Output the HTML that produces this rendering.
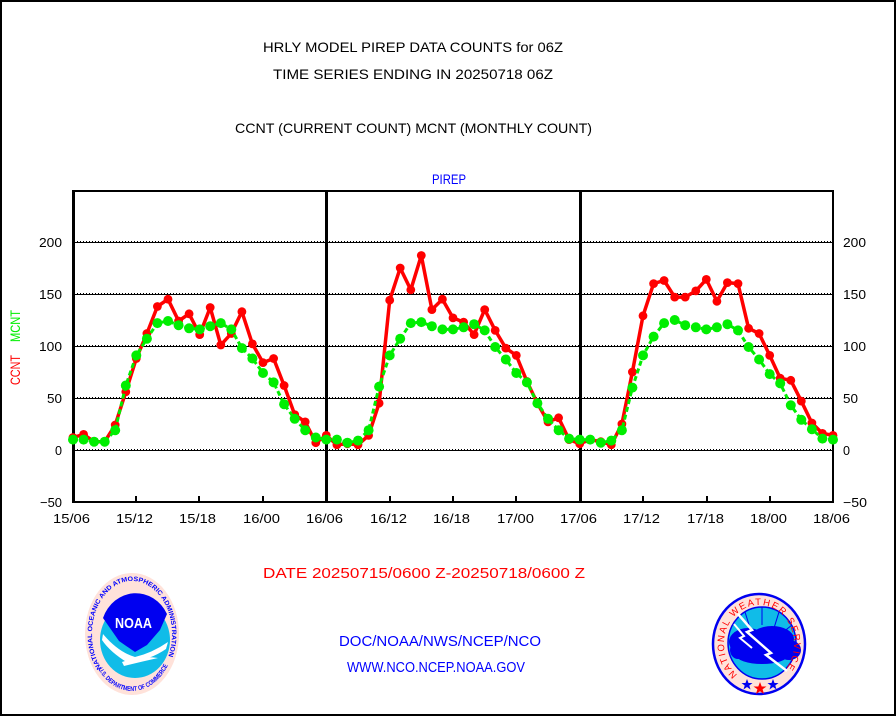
<!DOCTYPE html>
<html><head><meta charset="utf-8">
<style>
html,body{margin:0;padding:0;background:#fff;}
svg{display:block;}
text{font-family:"Liberation Sans",sans-serif;}
</style></head>
<body>
<svg width="896" height="716" viewBox="0 0 896 716" xmlns="http://www.w3.org/2000/svg">
<defs>
<marker id="mr" markerUnits="userSpaceOnUse" markerWidth="12" markerHeight="12" refX="6" refY="6"><circle cx="6" cy="6" r="4.4" fill="#ff0000"/></marker>
<marker id="mg" markerUnits="userSpaceOnUse" markerWidth="12" markerHeight="12" refX="6" refY="6"><circle cx="6" cy="6" r="5" fill="#00ee00"/></marker>
<path id="noaaTop" d="M 101.4,668.1 A 40 53 0 1 1 162.6,668.1" fill="none"/>
<path id="noaaBot" d="M 96.8,666.7 A 43 57 0 0 0 167.2,666.7" fill="none"/>
<path id="nwsTop" d="M 737.4,674.7 A 35 39 0 1 1 780.6,674.7" fill="none"/>
</defs>
<rect x="0" y="0" width="896" height="716" fill="#fff"/>
<rect x="1" y="1" width="894" height="714" fill="none" stroke="#000" stroke-width="2"/>

<!-- titles -->
<text x="263" y="52" font-size="14" textLength="300" lengthAdjust="spacingAndGlyphs">HRLY MODEL PIREP DATA COUNTS for 06Z</text>
<text x="273" y="79" font-size="14" textLength="280" lengthAdjust="spacingAndGlyphs">TIME SERIES ENDING IN 20250718 06Z</text>
<text x="235" y="133" font-size="14" textLength="357" lengthAdjust="spacingAndGlyphs">CCNT (CURRENT COUNT) MCNT (MONTHLY COUNT)</text>
<text x="432" y="184" font-size="14" fill="#0000ff" textLength="34" lengthAdjust="spacingAndGlyphs">PIREP</text>

<!-- y axis title -->
<text transform="translate(20,385) rotate(-90)" font-size="14" fill="#ff0000" textLength="30" lengthAdjust="spacingAndGlyphs">CCNT</text>
<text transform="translate(20,342) rotate(-90)" font-size="14" fill="#00ee00" textLength="32" lengthAdjust="spacingAndGlyphs">MCNT</text>

<!-- gridlines -->
<g fill="#000">
<rect x="74" y="242" width="759" height="1"/>
<rect x="74" y="294" width="759" height="1"/>
<rect x="74" y="346" width="759" height="1"/>
<rect x="74" y="398" width="759" height="1"/>
<rect x="74" y="450" width="759" height="1"/>
</g>
<g stroke="#000" stroke-width="1" stroke-dasharray="1 2">
<line x1="74" y1="241.5" x2="833" y2="241.5"/>
<line x1="74" y1="293.5" x2="833" y2="293.5"/>
<line x1="74" y1="345.5" x2="833" y2="345.5"/>
<line x1="74" y1="397.5" x2="833" y2="397.5"/>
<line x1="74" y1="449.5" x2="833" y2="449.5"/>
</g>

<!-- axes frame -->
<g fill="#000">
<rect x="72" y="190" width="762" height="2"/>
<rect x="72" y="501" width="762" height="2"/>
<rect x="72" y="190" width="3" height="313"/>
<rect x="832" y="190" width="2" height="313"/>
<rect x="325" y="190" width="3" height="313"/>
<rect x="579" y="190" width="3" height="313"/>
<rect x="135" y="496" width="2" height="5"/>
<rect x="198" y="496" width="2" height="5"/>
<rect x="262" y="496" width="2" height="5"/>
<rect x="389" y="496" width="2" height="5"/>
<rect x="452" y="496" width="2" height="5"/>
<rect x="515" y="496" width="2" height="5"/>
<rect x="642" y="496" width="2" height="5"/>
<rect x="706" y="496" width="2" height="5"/>
<rect x="769" y="496" width="2" height="5"/>
</g>

<!-- y tick labels left -->
<g font-size="13" text-anchor="end">
<text x="62" y="247" textLength="23" lengthAdjust="spacingAndGlyphs">200</text>
<text x="62" y="299" textLength="23" lengthAdjust="spacingAndGlyphs">150</text>
<text x="62" y="351" textLength="23" lengthAdjust="spacingAndGlyphs">100</text>
<text x="62" y="403" textLength="15" lengthAdjust="spacingAndGlyphs">50</text>
<text x="62" y="455" textLength="7" lengthAdjust="spacingAndGlyphs">0</text>
<text x="62" y="507" textLength="22" lengthAdjust="spacingAndGlyphs">−50</text>
</g>
<!-- y tick labels right -->
<g font-size="13">
<text x="843" y="247" textLength="23" lengthAdjust="spacingAndGlyphs">200</text>
<text x="843" y="299" textLength="23" lengthAdjust="spacingAndGlyphs">150</text>
<text x="843" y="351" textLength="23" lengthAdjust="spacingAndGlyphs">100</text>
<text x="843" y="403" textLength="15" lengthAdjust="spacingAndGlyphs">50</text>
<text x="843" y="455" textLength="7" lengthAdjust="spacingAndGlyphs">0</text>
<text x="843" y="507" textLength="24" lengthAdjust="spacingAndGlyphs">−50</text>
</g>
<!-- x tick labels -->
<g font-size="13">
<text x="53" y="523" textLength="37" lengthAdjust="spacingAndGlyphs">15/06</text>
<text x="116" y="523" textLength="37" lengthAdjust="spacingAndGlyphs">15/12</text>
<text x="179" y="523" textLength="37" lengthAdjust="spacingAndGlyphs">15/18</text>
<text x="243" y="523" textLength="37" lengthAdjust="spacingAndGlyphs">16/00</text>
<text x="306" y="523" textLength="37" lengthAdjust="spacingAndGlyphs">16/06</text>
<text x="370" y="523" textLength="37" lengthAdjust="spacingAndGlyphs">16/12</text>
<text x="433" y="523" textLength="37" lengthAdjust="spacingAndGlyphs">16/18</text>
<text x="497" y="523" textLength="37" lengthAdjust="spacingAndGlyphs">17/00</text>
<text x="560" y="523" textLength="37" lengthAdjust="spacingAndGlyphs">17/06</text>
<text x="623" y="523" textLength="37" lengthAdjust="spacingAndGlyphs">17/12</text>
<text x="687" y="523" textLength="37" lengthAdjust="spacingAndGlyphs">17/18</text>
<text x="750" y="523" textLength="37" lengthAdjust="spacingAndGlyphs">18/00</text>
<text x="813" y="523" textLength="37" lengthAdjust="spacingAndGlyphs">18/06</text>
</g>

<!-- red series -->
<polyline fill="none" stroke="#ff0000" stroke-width="3.5" stroke-linejoin="round" marker-start="url(#mr)" marker-mid="url(#mr)" marker-end="url(#mr)"
points="73,437.5 83.6,434.4 94.1,441.7 104.7,441.7 115.2,425 125.8,391.8 136.3,358.5 146.9,333.5 157.4,306.5 168,299.2 178.6,321 189.1,313.8 199.7,334.6 210.2,307.5 220.8,345 231.3,333.5 241.9,311.7 252.4,343.9 263,362.6 273.6,358.5 284.1,385.5 294.7,414.6 305.2,421.9 315.8,442.7 326.3,435.4 336.9,444.8 347.4,443.8 358,444.8 368.6,435.4 379.1,403.2 389.7,300.2 400.2,268 410.8,289.8 421.3,255.5 431.9,309.6 442.4,299.2 453,317.9 463.6,322.1 474.1,334.6 484.7,309.6 495.2,330.4 505.8,348.1 516.3,355.4 526.9,381.4 537.4,403.2 548,421.9 558.6,417.8 569.1,439.6 579.7,443.8 590.2,439.6 600.8,441.7 611.3,444.8 621.9,424 632.4,372 643,315.8 653.6,283.6 664.1,280.5 674.7,297.1 685.2,297.1 695.8,290.9 706.3,279.4 716.9,301.3 727.4,282.6 738,283.6 748.6,328.3 759.1,333.5 769.7,355.4 780.2,378.2 790.8,380.3 801.3,401.1 811.9,423 822.4,433.4 833,435.4"/>

<!-- green series -->
<polyline fill="none" stroke="#00ee00" stroke-width="3" stroke-dasharray="5 3" marker-start="url(#mg)" marker-mid="url(#mg)" marker-end="url(#mg)"
points="73,439.6 83.6,439.6 94.1,441.7 104.7,441.7 115.2,430.2 125.8,385.5 136.3,355.4 146.9,338.7 157.4,323.1 168,321 178.6,325.2 189.1,328.3 199.7,329.4 210.2,326.2 220.8,323.1 231.3,329.4 241.9,348.1 252.4,358.5 263,373 273.6,382.4 284.1,404.2 294.7,418.8 305.2,430.2 315.8,437.5 326.3,439.6 336.9,439.6 347.4,442.7 358,440.6 368.6,430.2 379.1,386.6 389.7,355.4 400.2,338.7 410.8,323.1 421.3,322.1 431.9,326.2 442.4,329.4 453,329.4 463.6,327.3 474.1,324.2 484.7,330.4 495.2,347 505.8,359.5 516.3,373 526.9,382.4 537.4,403.2 548,418.8 558.6,430.2 569.1,438.6 579.7,439.6 590.2,439.6 600.8,442.7 611.3,440.6 621.9,430.2 632.4,387.6 643,355.4 653.6,336.6 664.1,323.1 674.7,320 685.2,325.2 695.8,327.3 706.3,329.4 716.9,327.3 727.4,324.2 738,330.4 748.6,347 759.1,359.5 769.7,374.1 780.2,383.4 790.8,405.3 801.3,419.8 811.9,429.2 822.4,438.6 833,439.6"/>

<!-- bottom texts -->
<text x="263" y="578" font-size="14.5" fill="#ff0000" textLength="322" lengthAdjust="spacingAndGlyphs">DATE 20250715/0600 Z-20250718/0600 Z</text>
<text x="339" y="646" font-size="14.5" fill="#0000ff" textLength="202" lengthAdjust="spacingAndGlyphs">DOC/NOAA/NWS/NCEP/NCO</text>
<text x="347" y="672" font-size="14.5" fill="#0000ff" textLength="178" lengthAdjust="spacingAndGlyphs">WWW.NCO.NCEP.NOAA.GOV</text>

<!-- NOAA logo -->
<ellipse cx="132" cy="634" rx="47" ry="61" fill="#ffe2da"/>
<ellipse cx="135" cy="640" rx="35" ry="38" fill="#10bce8"/>
<path d="M 103,618 A 35 38 0 0 1 167,614 L 160,630 L 147,645 L 135,652 L 119,641 Z" fill="#0000f0"/>
<path d="M 103,634 Q 118,652 135,657 Q 152,653 168,642 L 166,649 Q 150,660 128,663 Q 110,652 102,640 Z" fill="#ffffff"/>
<path d="M 122,662 Q 140,655 158,658 Q 140,662 124,666 Z" fill="#ffffff"/>
<text x="115" y="628" font-size="15" font-weight="bold" fill="#ffffff" textLength="37" lengthAdjust="spacingAndGlyphs">NOAA</text>
<text font-size="6.5" font-weight="bold" fill="#0000ff"><textPath href="#noaaTop" textLength="205" lengthAdjust="spacingAndGlyphs">NATIONAL OCEANIC AND ATMOSPHERIC ADMINISTRATION</textPath></text>
<text font-size="6.5" font-weight="bold" fill="#0000ff"><textPath href="#noaaBot" startOffset="3" textLength="88" lengthAdjust="spacingAndGlyphs">U.S. DEPARTMENT OF COMMERCE</textPath></text>

<!-- NWS logo -->
<ellipse cx="759" cy="644" rx="46" ry="50" fill="#ffe2da" stroke="#0000f0" stroke-width="2.5"/>
<ellipse cx="762" cy="643" rx="34" ry="36" fill="#10bce8" stroke="#0000f0" stroke-width="1.5"/>
<g stroke="#0000f0" stroke-width="1">
<line x1="762" y1="607" x2="762" y2="625"/>
<line x1="745" y1="612" x2="750" y2="628"/>
<line x1="779" y1="612" x2="774" y2="628"/>
<line x1="792" y1="625" x2="782" y2="633"/>
</g>
<g fill="#0000f0">
<ellipse cx="748" cy="642" rx="19" ry="14"/>
<ellipse cx="772" cy="639" rx="22" ry="13"/>
<ellipse cx="789" cy="650" rx="12" ry="10"/>
<ellipse cx="762" cy="655" rx="26" ry="9"/>
<ellipse cx="738" cy="650" rx="8" ry="9"/>
</g>
<polyline points="738,614 752,630 747,632 771,653 766,655 787,671" fill="none" stroke="#ffffff" stroke-width="2.5"/>
<polyline points="734,624 744,636 740,638 752,648" fill="none" stroke="#ffffff" stroke-width="2"/>
<polygon points="747,679 748.5,683 752.5,683 749.3,685.5 750.5,689.5 747,687 743.5,689.5 744.7,685.5 741.5,683 745.5,683" fill="#0000f0"/>
<polygon points="760,682 761.7,686.5 766.5,686.5 762.6,689.3 764,694 760,691.2 756,694 757.4,689.3 753.5,686.5 758.3,686.5" fill="#ff0000"/>
<polygon points="773,679 774.5,683 778.5,683 775.3,685.5 776.5,689.5 773,687 769.5,689.5 770.7,685.5 767.5,683 771.5,683" fill="#0000f0"/>
<text font-size="9.5" fill="#ff0000"><textPath href="#nwsTop" textLength="176" lengthAdjust="spacing">NATIONAL WEATHER SERVICE</textPath></text>
</svg>
</body></html>
